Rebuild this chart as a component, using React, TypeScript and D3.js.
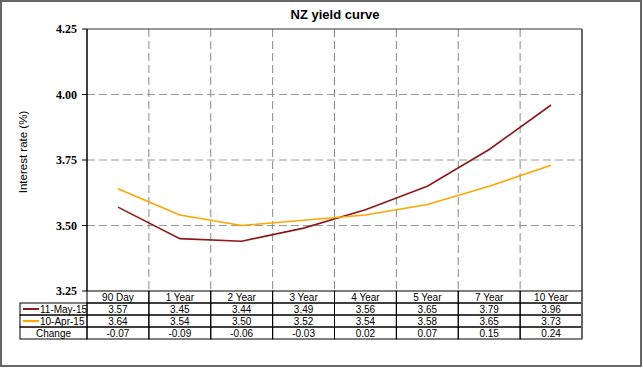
import React from "react";
import * as d3 from "d3";

const categories = ["90 Day", "1 Year", "2 Year", "3 Year", "4 Year", "5 Year", "7 Year", "10 Year"];
const may15 = [3.57, 3.45, 3.44, 3.49, 3.56, 3.65, 3.79, 3.96];
const apr15 = [3.64, 3.54, 3.5, 3.52, 3.54, 3.58, 3.65, 3.73];
const change = [-0.07, -0.09, -0.06, -0.03, 0.02, 0.07, 0.15, 0.24];
const yTicks = [3.25, 3.5, 3.75, 4.0, 4.25];
const seriesNames = ["11-May-15", "10-Apr-15"];
const seriesColors = ["#8b1a1a", "#ffa500"];

const W = 643, H = 369;
const L = 87, R = 582, T = 29, B = 291;
const rowH = 12;
const labelX = 20;

export default function App() {
  const x = d3.scaleBand<string>().domain(categories).range([L, R]);
  const y = d3.scaleLinear().domain([3.25, 4.25]).range([B, T]);
  const line = d3
    .line<number>()
    .x((_, i) => (x(categories[i]) as number) + x.bandwidth() / 2)
    .y((d) => y(d));
  const bounds = categories.map((c) => x(c) as number).concat([R]);
  const series = [may15, apr15];
  const rows = [
    { label: "", values: categories, legend: -1 },
    { label: seriesNames[0], values: may15.map((v) => v.toFixed(2)), legend: 0 },
    { label: seriesNames[1], values: apr15.map((v) => v.toFixed(2)), legend: 1 },
    { label: "Change", values: change.map((v) => v.toFixed(2)), legend: -1 },
  ];
  const tableFont = "'Liberation Sans', Arial, sans-serif";
  return (
    <svg width={W} height={H} style={{ position: "absolute", left: 0, top: 0 }}>
      <rect x={0} y={0} width={W} height={H} fill="#fff" />
      <rect x={1} y={1} width={640} height={365} fill="none" stroke="#666" strokeWidth={2} />
      <text x={335} y={19} textAnchor="middle" fontFamily="Arial, 'Liberation Sans', sans-serif" fontWeight="bold" fontSize={13}>
        NZ yield curve
      </text>
      {/* grid */}
      {yTicks.slice(1, -1).map((t) => (
        <line key={"h" + t} x1={L} x2={R} y1={y(t)} y2={y(t)} stroke="#999" strokeDasharray="8,4" />
      ))}
      {bounds.slice(1, -1).map((bx, i) => (
        <line key={"v" + i} x1={bx} x2={bx} y1={T} y2={B} stroke="#888" strokeDasharray="8,4" />
      ))}
      {/* plot frame */}
      <line x1={L} x2={R} y1={T} y2={T} stroke="#333" />
      <line x1={R} x2={R} y1={T} y2={B} stroke="#666" strokeWidth={2} />
      <line x1={L} x2={L} y1={T} y2={B} stroke="#000" strokeWidth={1.5} />
      {yTicks.map((t) => (
        <g key={"t" + t}>
          <line x1={L - 5} x2={L} y1={y(t)} y2={y(t)} stroke="#000" />
          <text x={L - 10} y={y(t) + 4} textAnchor="end" fontFamily="'Liberation Serif', 'Times New Roman', serif" fontWeight="bold" fontSize={12}>
            {t.toFixed(2)}
          </text>
        </g>
      ))}
      <text transform={`translate(27,152) rotate(-90)`} textAnchor="middle" fontFamily="Arial, 'Liberation Sans', sans-serif" fontSize={11.5}>
        Interest rate (%)
      </text>
      {/* lines */}
      {series.map((s, i) => (
        <path key={"s" + i} d={line(s) as string} fill="none" stroke={seriesColors[i]} strokeWidth={1.6} />
      ))}
      {/* table */}
      <g fontFamily={tableFont} fontSize={10}>
        {rows.map((r, ri) => {
          const ry = B + ri * rowH;
          return (
            <g key={"r" + ri}>
              {ri > 0 && (
                <rect x={labelX} y={ry} width={L - labelX} height={rowH} fill="none" stroke="#000" />
              )}
              {r.legend >= 0 && (
                <line x1={labelX + 3} x2={labelX + 19} y1={ry + 6} y2={ry + 6} stroke={seriesColors[r.legend]} strokeWidth={2} />
              )}
              {ri > 0 && (
                <text x={r.legend >= 0 ? labelX + 20 : (labelX + L) / 2} y={ry + 10} textAnchor={r.legend >= 0 ? "start" : "middle"}>
                  {r.label}
                </text>
              )}
              {categories.map((c, ci) => (
                <g key={"c" + ci}>
                  <rect x={x(c) as number} y={ry} width={x.bandwidth()} height={rowH} fill="none" stroke="#000" />
                  <text x={(x(c) as number) + x.bandwidth() / 2} y={ry + 10} textAnchor="middle">
                    {r.values[ci]}
                  </text>
                </g>
              ))}
            </g>
          );
        })}
        <line x1={R} x2={R} y1={B} y2={B + 4 * rowH} stroke="#666" strokeWidth={2} />
      </g>
    </svg>
  );
}
